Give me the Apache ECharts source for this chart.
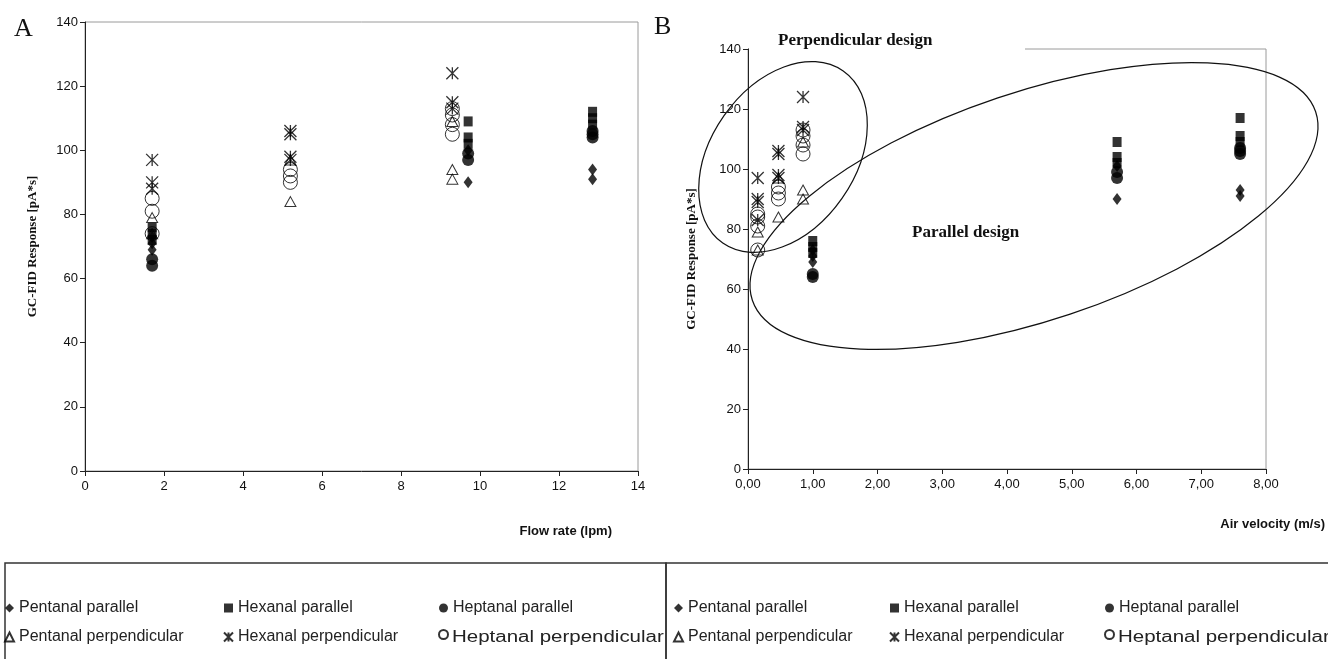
<!DOCTYPE html>
<html>
<head>
<meta charset="utf-8">
<script src="https://cdn.jsdelivr.net/npm/echarts@6/dist/echarts.min.js"></script>
<style>
  html, body { margin: 0; padding: 0; background: #fff; }
  #chart { width: 1328px; height: 659px; }
</style>
</head>
<body>
<div id="chart"></div>
<script>
// ---- data: panel A (flow rate, lpm) ----
var pentParA  = [[1.7, 73], [1.7, 71], [1.7, 69], [9.7, 100], [9.7, 90], [12.85, 94], [12.85, 91]];
var hexParA   = [[1.7, 76], [1.7, 74], [1.7, 72], [9.7, 109], [9.7, 104], [9.7, 102], [12.85, 112], [12.85, 110], [12.85, 108]];
var heptParA  = [[1.7, 66], [1.7, 64], [9.7, 99], [9.7, 97], [12.85, 106], [12.85, 105], [12.85, 104]];
var pentPerpA = [[1.7, 79], [1.7, 74], [5.2, 97], [5.2, 84], [9.3, 109], [9.3, 94], [9.3, 91]];
var hexPerpA  = [[1.7, 97], [1.7, 90], [1.7, 88], [5.2, 106], [5.2, 105], [5.2, 98], [5.2, 97], [9.3, 124], [9.3, 115], [9.3, 113]];
var heptPerpA = [[1.7, 85], [1.7, 81], [1.7, 74], [5.2, 94], [5.2, 92], [5.2, 90], [9.3, 113], [9.3, 111], [9.3, 108], [9.3, 105]];

// ---- data: panel B (air velocity, m/s) ----
var pentParB  = [[1.0, 73], [1.0, 71], [1.0, 69], [5.7, 101], [5.7, 90], [7.6, 93], [7.6, 91]];
var hexParB   = [[1.0, 76], [1.0, 74], [1.0, 72], [5.7, 109], [5.7, 104], [5.7, 102], [7.6, 117], [7.6, 111], [7.6, 109]];
var heptParB  = [[1.0, 65], [1.0, 64], [5.7, 99], [5.7, 97], [7.6, 107], [7.6, 106], [7.6, 105]];
var pentPerpB = [[0.15, 79], [0.15, 73], [0.47, 97], [0.47, 84], [0.85, 109], [0.85, 93], [0.85, 90]];
var hexPerpB  = [[0.15, 97], [0.15, 90], [0.15, 89], [0.15, 83], [0.47, 106], [0.47, 105], [0.47, 98], [0.47, 97], [0.85, 124], [0.85, 114], [0.85, 113]];
var heptPerpB = [[0.15, 85], [0.15, 84], [0.15, 81], [0.15, 73], [0.47, 94], [0.47, 92], [0.47, 90], [0.85, 113], [0.85, 111], [0.85, 108], [0.85, 105]];

var seriesNames = ['Pentanal parallel', 'Hexanal parallel', 'Heptanal parallel',
                   'Pentanal perpendicular', 'Hexanal perpendicular', 'Heptanal perpendicular'];

// ---- marker styles ----
var STAR = 'path://M0,0L10,10M10,0L0,10M5,0L5,10';
var markers = [
  { symbol: 'diamond', size: [9, 12], style: { color: '#000' } },
  { symbol: 'rect', size: [9, 10], style: { color: '#000' } },
  { symbol: 'circle', size: 12, style: { color: '#000' } },
  { symbol: 'triangle', size: [11, 10], style: { color: 'rgba(0,0,0,0)', borderColor: '#000', borderWidth: 1 } },
  { symbol: STAR, size: 12, style: { color: 'rgba(0,0,0,0)', borderColor: '#000', borderWidth: 1.3 } },
  { symbol: 'circle', size: 14, style: { color: 'rgba(0,0,0,0)', borderColor: '#000', borderWidth: 1 } }
];

var dataA = [pentParA, hexParA, heptParA, pentPerpA, hexPerpA, heptPerpA];
var dataB = [pentParB, hexParB, heptParB, pentPerpB, hexPerpB, heptPerpB];

function makeSeries(list, gridIndex) {
  return list.map(function (d, i) {
    return {
      name: seriesNames[i],
      type: 'scatter',
      xAxisIndex: gridIndex,
      yAxisIndex: gridIndex,
      data: d,
      symbol: markers[i].symbol,
      symbolSize: markers[i].size,
      itemStyle: markers[i].style,
      emphasis: { disabled: true },
      z: 3
    };
  });
}

var tickFont = { fontFamily: 'Liberation Sans', fontSize: 13, color: '#111' };
var axisLine = { show: true, lineStyle: { color: '#222', width: 1 } };
var axisTick = { show: true, length: 5, lineStyle: { color: '#222' } };
var yTitle = { fontFamily: 'Liberation Serif', fontWeight: 'bold', fontSize: 13, color: '#111' };
var legendFont = { fontFamily: 'Liberation Sans', fontSize: 16, color: '#222' };

// the last legend entry is drawn stretched in the original, so its text is a graphic
function legendCol(left, names) {
  return {
    orient: 'vertical', left: left, top: 600, padding: 0, itemGap: 13,
    itemWidth: 9, itemHeight: 9, textStyle: legendFont,
    data: names, selectedMode: false,
    formatter: function (name) { return name === 'Heptanal perpendicular' ? '' : name; }
  };
}

function stretchedLabel(x) {
  return { type: 'text', x: x, y: 637.5, scaleX: 1.28, z: 10,
    style: { text: 'Heptanal perpendicular', font: '16px "Liberation Sans"', fill: '#222', verticalAlign: 'middle' } };
}

var chart = echarts.init(document.getElementById('chart'), null, { renderer: 'canvas' });

chart.setOption({
  animation: false,
  backgroundColor: '#fff',
  grid: [
    { left: 85, top: 22, width: 553, height: 449, show: true, borderColor: '#9a9a9a', borderWidth: 1 },
    { left: 748, top: 49, width: 518, height: 420, show: true, borderColor: '#9a9a9a', borderWidth: 1 }
  ],
  xAxis: [
    { gridIndex: 0, type: 'value', min: 0, max: 14, interval: 2, splitLine: { show: false },
      axisLine: axisLine, axisTick: axisTick, axisLabel: Object.assign({ margin: 9 }, tickFont) },
    { gridIndex: 1, type: 'value', min: 0, max: 8, interval: 1, splitLine: { show: false },
      axisLine: axisLine, axisTick: axisTick,
      axisLabel: Object.assign({ margin: 9, formatter: function (v) { return v.toFixed(2).replace('.', ','); } }, tickFont) }
  ],
  yAxis: [
    { gridIndex: 0, type: 'value', min: 0, max: 140, interval: 20, splitLine: { show: false },
      axisLine: axisLine, axisTick: axisTick, axisLabel: Object.assign({ margin: 7 }, tickFont),
      name: 'GC-FID Response [pA*s]', nameLocation: 'middle', nameGap: 46, nameTextStyle: yTitle },
    { gridIndex: 1, type: 'value', min: 0, max: 140, interval: 20, splitLine: { show: false },
      axisLine: axisLine, axisTick: axisTick, axisLabel: Object.assign({ margin: 7 }, tickFont),
      name: 'GC-FID Response [pA*s]', nameLocation: 'middle', nameGap: 50, nameTextStyle: yTitle }
  ],
  legend: [
    legendCol(4, ['Pentanal parallel', 'Pentanal perpendicular']),
    legendCol(223, ['Hexanal parallel', 'Hexanal perpendicular']),
    legendCol(438, ['Heptanal parallel', 'Heptanal perpendicular']),
    legendCol(673, ['Pentanal parallel', 'Pentanal perpendicular']),
    legendCol(889, ['Hexanal parallel', 'Hexanal perpendicular']),
    legendCol(1104, ['Heptanal parallel', 'Heptanal perpendicular'])
  ],
  graphic: [
    // panel letters
    { type: 'text', left: 14, top: 16, style: { text: 'A', font: '26px "Liberation Serif"', fill: '#111' } },
    { type: 'text', left: 654, top: 14, style: { text: 'B', font: '26px "Liberation Serif"', fill: '#111' } },
    // x axis titles
    { type: 'text', right: 716, top: 525, style: { text: 'Flow rate (lpm)', font: 'bold 13px "Liberation Sans"', fill: '#111' } },
    { type: 'text', right: 3, top: 518, style: { text: 'Air velocity (m/s)', font: 'bold 13px "Liberation Sans"', fill: '#111' } },
    // white box behind the annotation covering part of the top border
    { type: 'rect', shape: { x: 749, y: 30, width: 276, height: 26 }, style: { fill: '#fff' }, z: 50 },
    { type: 'text', x: 778, y: 32, z: 51, style: { text: 'Perpendicular design', font: 'bold 17px "Liberation Serif"', fill: '#111' } },
    { type: 'text', x: 912, y: 224, z: 51, style: { text: 'Parallel design', font: 'bold 17px "Liberation Serif"', fill: '#111' } },
    // ellipses
    { type: 'ellipse', x: 783, y: 157, rotation: 55 * Math.PI / 180, z: 52,
      shape: { cx: 0, cy: 0, rx: 105, ry: 72 }, style: { fill: 'none', stroke: '#111', lineWidth: 1.2 } },
    { type: 'ellipse', x: 1034, y: 206, rotation: 18.5 * Math.PI / 180, z: 52,
      shape: { cx: 0, cy: 0, rx: 297, ry: 114 }, style: { fill: 'none', stroke: '#111', lineWidth: 1.2 } },
    // legend boxes
    { type: 'rect', shape: { x: 5, y: 563, width: 661, height: 110 }, style: { fill: 'none', stroke: '#333', lineWidth: 1.5 }, z: 1 },
    { type: 'rect', shape: { x: 666, y: 563, width: 670, height: 110 }, style: { fill: 'none', stroke: '#333', lineWidth: 1.5 }, z: 1 },
    stretchedLabel(452),
    stretchedLabel(1118)
  ],
  series: makeSeries(dataA, 0).concat(makeSeries(dataB, 1))
});
</script>
</body>
</html>
